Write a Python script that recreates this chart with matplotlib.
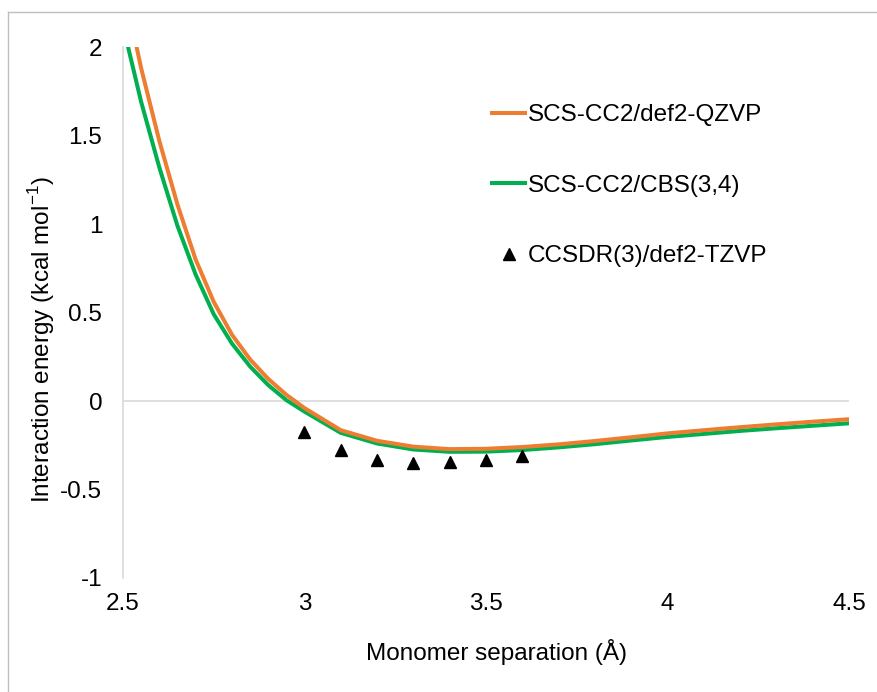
import matplotlib
matplotlib.use('Agg')
import matplotlib.pyplot as plt
from matplotlib.lines import Line2D

# ---- data ----
x_curve = [2.50, 2.55, 2.60, 2.65, 2.70, 2.75, 2.80, 2.85, 2.90, 2.95, 3.00,
           3.10, 3.20, 3.30, 3.40, 3.50, 3.60, 3.70, 3.80, 3.90, 4.00,
           4.10, 4.20, 4.30, 4.40, 4.50]
e_qzvp = [2.36, 1.88, 1.47, 1.11, 0.80, 0.56, 0.375, 0.235, 0.125, 0.035, -0.04,
          -0.165, -0.225, -0.258, -0.272, -0.270, -0.260, -0.245, -0.226, -0.205, -0.183,
          -0.165, -0.148, -0.132, -0.117, -0.103]
e_cbs = [2.12, 1.69, 1.32, 0.99, 0.715, 0.49, 0.325, 0.195, 0.09, 0.005, -0.06,
         -0.18, -0.24, -0.274, -0.287, -0.286, -0.277, -0.262, -0.244, -0.223, -0.203,
         -0.186, -0.169, -0.154, -0.140, -0.126]
x_ccsdr = [3.0, 3.1, 3.2, 3.3, 3.4, 3.5, 3.6]
e_ccsdr = [-0.175, -0.277, -0.333, -0.348, -0.346, -0.333, -0.31]

x_ticks = [2.5, 3, 3.5, 4, 4.5]
x_ticklabels = ['2.5', '3', '3.5', '4', '4.5']
y_ticks = [-1, -0.5, 0, 0.5, 1, 1.5, 2]
y_ticklabels = ['-1', '-0.5', '0', '0.5', '1', '1.5', '2']

plt.rcParams['font.family'] = ['Liberation Sans', 'DejaVu Sans']
plt.rcParams['mathtext.fontset'] = 'custom'
plt.rcParams['mathtext.rm'] = 'Liberation Sans'
FS = 17.5

W, H = 878, 692
fig = plt.figure(figsize=(W / 100, H / 100), dpi=100)
ax = fig.add_axes([123 / W, 1 - 578 / H, 726 / W, 531 / H])

ax.plot(x_curve, e_qzvp, color='#ED7D31', lw=2.9, label='SCS-CC2/def2-QZVP',
        solid_joinstyle='round', zorder=3)
ax.plot(x_curve, e_cbs, color='#00B050', lw=2.9, label='SCS-CC2/CBS(3,4)',
        solid_joinstyle='round', zorder=2)
ax.plot(x_ccsdr, e_ccsdr, ls='none', marker='^', ms=8, color='black',
        label='CCSDR(3)/def2-TZVP', zorder=4)

ax.set_xlim(2.5, 4.5)
ax.set_ylim(-1, 2)
ax.axhline(0, color='#D9D9D9', lw=1.2, zorder=1)

for s in ['top', 'right', 'bottom']:
    ax.spines[s].set_visible(False)
ax.spines['left'].set_color('#D9D9D9')
ax.spines['left'].set_linewidth(1.2)

ax.set_xticks(x_ticks)
ax.set_xticklabels(x_ticklabels)
ax.set_yticks(y_ticks)
ax.set_yticklabels(y_ticklabels)
ax.tick_params(axis='x', length=0, pad=11, labelsize=FS)
ax.tick_params(axis='y', length=0, pad=15, labelsize=FS)

fig.text(42 / W, 1 - 340 / H, r'Interaction energy (kcal mol$^{\mathregular{-1}}$)',
         rotation=90, ha='center', va='center', fontsize=FS)
fig.text(497 / W, 1 - 652 / H, 'Monomer separation (Å)',
         ha='center', va='center', fontsize=FS)

ax.legend(loc='upper left', bbox_to_anchor=(492 / W, 1 - 104 / H),
          bbox_transform=fig.transFigure, frameon=False, fontsize=FS,
          borderpad=0, borderaxespad=0, handlelength=1.36, handletextpad=0.1,
          labelspacing=2.0)

# chart border (only top and left edges show in the reference)
fig.add_artist(Line2D([8 / W, 1], [1 - 12 / H, 1 - 12 / H], color='#BFBFBF', lw=1))
fig.add_artist(Line2D([8 / W, 8 / W], [0, 1 - 12 / H], color='#BFBFBF', lw=1))

fig.savefig('out.png', dpi=100)
